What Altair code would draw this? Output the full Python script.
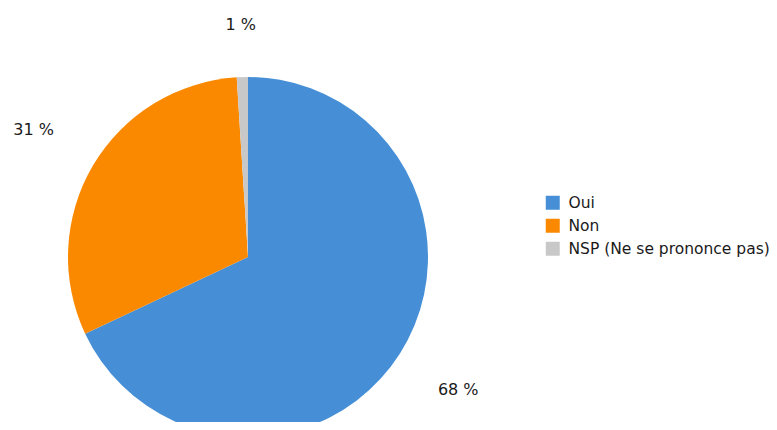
import altair as alt
import pandas as pd

categories = ["Oui", "Non", "NSP (Ne se prononce pas)"]
values = [68, 31, 1]
labels = ["68 %", "31 %", "1 %"]
colors = ["#468fd6", "#fa8900", "#c8c8c8"]

df = pd.DataFrame({"cat": categories, "value": values, "label": labels, "order": [0, 1, 2]})

theta_scale = alt.Scale(domain=[0, 100])

pie = alt.Chart(df).mark_arc(outerRadius=180).encode(
    theta=alt.Theta("value:Q", stack=True, scale=theta_scale),
    order=alt.Order("order:Q"),
    x=alt.value(240),
    y=alt.value(249),
    color=alt.Color(
        "cat:N",
        scale=alt.Scale(domain=categories, range=colors),
        sort=categories,
        legend=alt.Legend(
            title=None,
            orient="none",
            legendX=537,
            legendY=187,
            symbolType="square",
            symbolSize=196,
            symbolStrokeWidth=0,
            labelFont="DejaVu Sans",
            labelFontSize=15.5,
            labelColor="#1a1a1a",
            labelLimit=0,
            rowPadding=6,
            labelOffset=8,
        ),
    ),
)

text = alt.Chart(df).transform_window(
    cum="sum(value)", sort=[alt.SortField("order")], frame=[None, 0]
).transform_calculate(
    mid="datum.cum - datum.value / 2",
    r="datum.value < 5 ? 232 : 249",
).mark_text(font="DejaVu Sans", fontSize=16, color="#1a1a1a").encode(
    theta=alt.Theta("mid:Q", stack=None, scale=theta_scale),
    x=alt.value(240),
    y=alt.value(249),
    radius=alt.Radius("r:Q", scale=None),
    text="label:N",
)

chart = (pie + text).properties(
    width=761, height=414, padding=0,
    autosize=alt.AutoSizeParams(type="none"),
).configure_view(stroke=None)

chart.save("out.html", embed_options={"renderer": "svg", "actions": False})
